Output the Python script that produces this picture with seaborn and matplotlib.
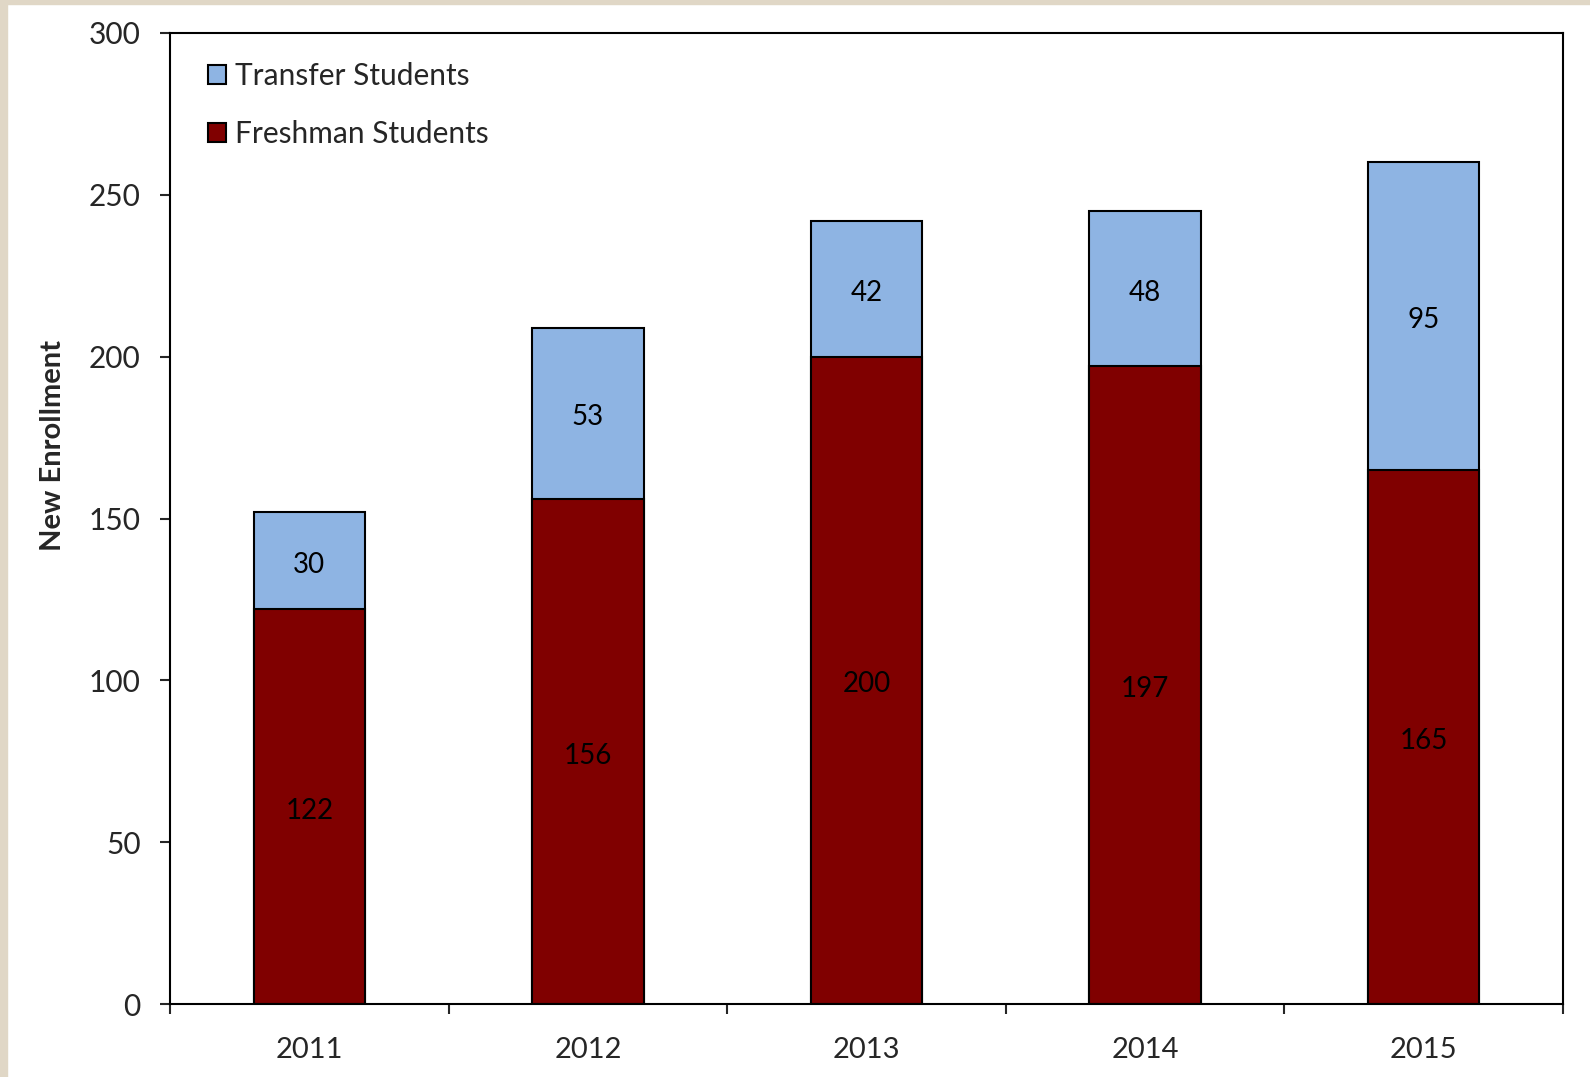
import pandas as pd
import numpy as np
import matplotlib.pyplot as plt
from matplotlib.patches import Patch, Rectangle
import seaborn as sns

# ── Data ──────────────────────────────────────────────
years = ['2011', '2012', '2013', '2014', '2015']
freshman = [122, 156, 200, 197, 165]
transfer = [30, 53, 42, 48, 95]

df = pd.DataFrame({'year': years, 'freshman': freshman, 'transfer': transfer})
df['total'] = df['freshman'] + df['transfer']

blue = '#8EB4E3'
red = '#800000'

sns.set_style('ticks')
plt.rcParams['font.family'] = ['Lato', 'DejaVu Sans']

fig = plt.figure(figsize=(15.9, 10.77), dpi=100)
fig.patch.set_facecolor('white')
# beige frame strips on the left and top
fig.patches.append(Rectangle((0, 0), 7 / 1590, 1, transform=fig.transFigure,
                             color='#E0D7C6', zorder=0))
fig.patches.append(Rectangle((0, 1 - 4 / 1077), 1, 4 / 1077, transform=fig.transFigure,
                             color='#E0D7C6', zorder=0))

ax = fig.add_axes([170 / 1590, 1 - 1004 / 1077, 1393 / 1590, 971 / 1077])

# ── Stacked bars: totals in blue, freshman on top in red ──
sns.barplot(data=df, x='year', y='total', color=blue, saturation=1,
            width=0.4, edgecolor='black', linewidth=1.5, ax=ax)
sns.barplot(data=df, x='year', y='freshman', color=red, saturation=1,
            width=0.4, edgecolor='black', linewidth=1.5, ax=ax)

# segment labels
for i, row in df.iterrows():
    ax.annotate(str(row['freshman']), (i, row['freshman'] / 2), xytext=(0, -3),
                textcoords='offset points', ha='center', va='center',
                fontsize=20, color='black')
    ax.annotate(str(row['transfer']), (i, row['freshman'] + row['transfer'] / 2),
                xytext=(0, -3), textcoords='offset points', ha='center', va='center',
                fontsize=20, color='black')

# ── Axes styling ──────────────────────────────────────
ax.set_ylim(0, 300)
ax.set_xlim(-0.5, len(years) - 0.5)
ax.set_yticks(np.arange(0, 301, 50))
ax.tick_params(axis='y', labelsize=21.5, length=7, width=1.5, direction='out', pad=14)
for lbl in ax.get_yticklabels():
    lbl.set_va('center_baseline')

ax.set_xticks(np.arange(-0.5, len(years), 1.0))
ax.set_xticklabels([])
ax.set_xticks(np.arange(len(years)), minor=True)
ax.set_xticklabels(years, minor=True)
ax.tick_params(axis='x', which='major', length=7, width=1.5, direction='out')
ax.tick_params(axis='x', which='minor', length=0, labelsize=21, pad=24)

for s in ax.spines.values():
    s.set_visible(True)
    s.set_linewidth(1.5)
    s.set_color('black')

ax.set_xlabel('')
ax.set_ylabel('New Enrollment', fontsize=21, fontweight='bold')
ax.yaxis.set_label_coords(-0.075, 0.575)

handles = [Patch(facecolor=blue, edgecolor='black', linewidth=1.5, label='Transfer Students'),
           Patch(facecolor=red, edgecolor='black', linewidth=1.5, label='Freshman Students')]
ax.legend(handles=handles, loc='upper left', bbox_to_anchor=(0.027, 0.97),
          frameon=False, fontsize=21.5, handlelength=0.62, handleheight=0.62,
          handletextpad=0.3, labelspacing=1.0, borderpad=0, borderaxespad=0)

plt.savefig('out.png', dpi=100, facecolor=fig.get_facecolor())
